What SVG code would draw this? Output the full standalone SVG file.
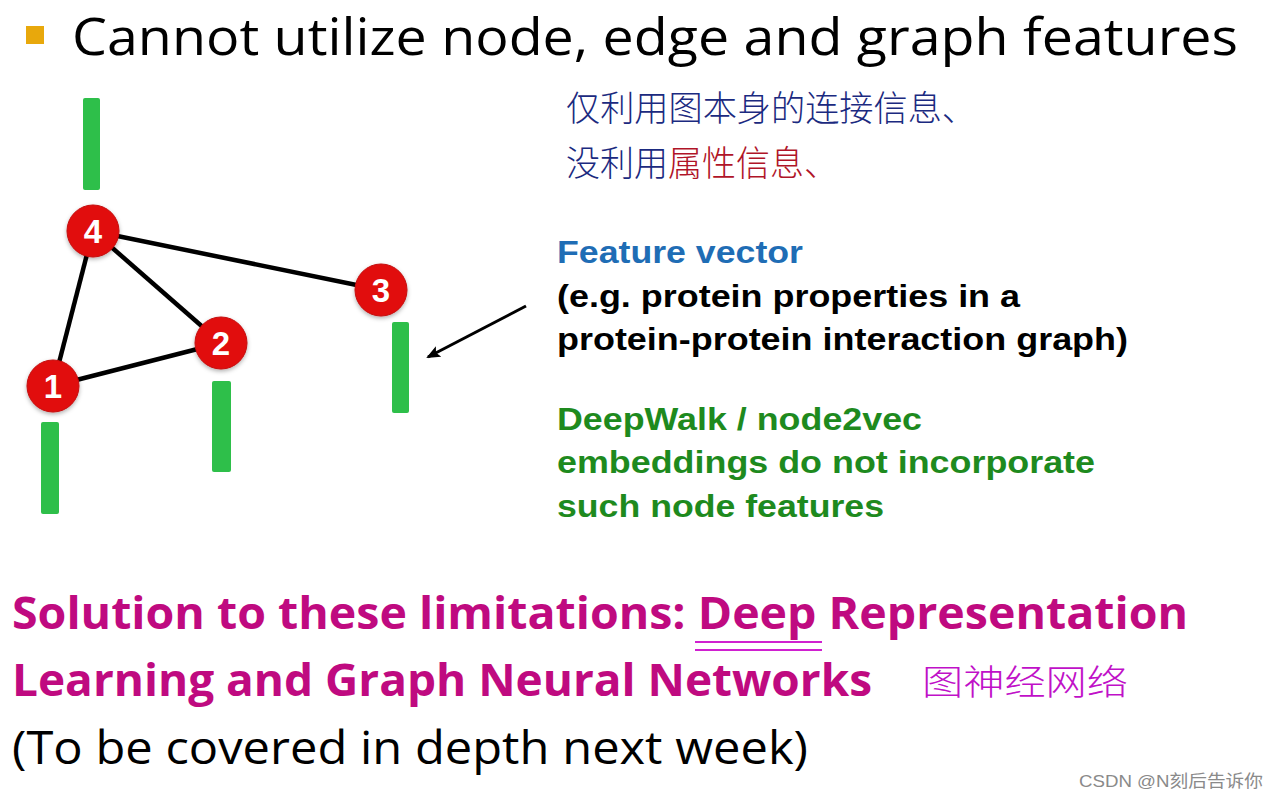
<svg xmlns="http://www.w3.org/2000/svg" width="1278" height="802" viewBox="0 0 1278 802">
<defs>
<style>
.title{font-family:"Open Sans","Noto Sans",sans-serif;font-size:52px;fill:#000}
.arial{font-family:"Liberation Sans",Arial,sans-serif;font-weight:bold;font-size:31px}
.sol{font-family:"Open Sans","Noto Sans",sans-serif;font-weight:bold;font-size:45px;fill:#BF0A80}
.reg{font-family:"Open Sans","Noto Sans",sans-serif;font-size:45px;fill:#000}
.hand{font-family:"Noto Sans CJK SC","Noto Sans CJK JP",sans-serif;font-weight:300;font-size:35px}
.bar{fill:#2EBF4A}
.node circle{fill:#E10F0F;stroke:#C40A0A;stroke-width:1}
.node text{font-family:"Liberation Sans",Arial,sans-serif;font-weight:bold;font-size:33px;fill:#fff;text-anchor:middle}
.edge{stroke:#000;stroke-width:4.5;fill:none}
</style>
<marker id="ah" markerWidth="14" markerHeight="12" refX="12" refY="6" orient="auto" markerUnits="userSpaceOnUse" viewBox="0 0 14 12">
<path d="M0,0 L14,6 L0,12 L3,6 z" fill="#000"/>
</marker>
<filter id="sh" x="-30%" y="-30%" width="160%" height="160%">
<feDropShadow dx="0" dy="2" stdDeviation="2" flood-color="#000" flood-opacity="0.3"/>
</filter>
</defs>
<rect width="1278" height="802" fill="#fff"/>

<rect x="26" y="26" width="18" height="18" fill="#E8A80C"/>
<text class="title" x="72" y="55" textLength="1166" lengthAdjust="spacingAndGlyphs">Cannot utilize node, edge and graph features</text>

<text class="hand" x="566" y="121" fill="#1B2A80" textLength="410" lengthAdjust="spacingAndGlyphs">仅利用图本身的连接信息、</text>
<text class="hand" x="566" y="176" textLength="272" lengthAdjust="spacingAndGlyphs"><tspan fill="#1B2A80">没利用</tspan><tspan fill="#B01428">属性信息、</tspan></text>

<g id="connectors">
<line class="edge" x1="93" y1="231" x2="53" y2="386"/>
<line class="edge" x1="93" y1="231" x2="221" y2="343"/>
<line class="edge" x1="93" y1="231" x2="381" y2="290"/>
<line class="edge" x1="53" y1="386" x2="221" y2="343"/>
<line x1="526" y1="306" x2="428" y2="357" stroke="#000" stroke-width="3" marker-end="url(#ah)"/>
</g>

<g id="bars">
<rect class="bar" x="83" y="98" width="17" height="92" rx="2"/>
<rect class="bar" x="41" y="422" width="18" height="92" rx="2"/>
<rect class="bar" x="212" y="381" width="19" height="91" rx="2"/>
<rect class="bar" x="392" y="322" width="17" height="91" rx="2"/>
</g>

<g id="node4" class="node"><circle cx="93" cy="231" r="26" filter="url(#sh)"/><text x="93" y="243">4</text></g>
<g id="node3" class="node"><circle cx="381" cy="290" r="26" filter="url(#sh)"/><text x="381" y="302">3</text></g>
<g id="node2" class="node"><circle cx="221" cy="343" r="26" filter="url(#sh)"/><text x="221" y="355">2</text></g>
<g id="node1" class="node"><circle cx="53" cy="386" r="26" filter="url(#sh)"/><text x="53" y="398">1</text></g>

<text class="arial" x="557" y="263" fill="#1F6DB5" textLength="246" lengthAdjust="spacingAndGlyphs">Feature vector</text>
<text class="arial" x="557" y="307" fill="#000" textLength="463" lengthAdjust="spacingAndGlyphs">(e.g. protein properties in a</text>
<text class="arial" x="557" y="350" fill="#000" textLength="571" lengthAdjust="spacingAndGlyphs">protein-protein interaction graph)</text>
<text class="arial" x="557" y="430" fill="#1E8A1E" textLength="365" lengthAdjust="spacingAndGlyphs">DeepWalk / node2vec</text>
<text class="arial" x="557" y="473" fill="#1E8A1E" textLength="538" lengthAdjust="spacingAndGlyphs">embeddings do not incorporate</text>
<text class="arial" x="557" y="517" fill="#1E8A1E" textLength="327" lengthAdjust="spacingAndGlyphs">such node features</text>

<text class="sol" x="12" y="629" textLength="1176" lengthAdjust="spacingAndGlyphs">Solution to these limitations: Deep Representation</text>
<line x1="695" y1="642" x2="822" y2="642" stroke="#D020D0" stroke-width="2"/>
<line x1="695" y1="650" x2="822" y2="650" stroke="#D020D0" stroke-width="2"/>
<text class="sol" x="12" y="696" textLength="860" lengthAdjust="spacingAndGlyphs">Learning and Graph Neural Networks</text>
<text class="reg" x="12" y="764" textLength="796" lengthAdjust="spacingAndGlyphs">(To be covered in depth next week)</text>

<text class="hand" x="922" y="695" fill="#C010C8" font-size="40" textLength="206" lengthAdjust="spacingAndGlyphs">图神经网络</text>
<text x="1079" y="787" font-family="Liberation Sans,Arial,Noto Sans CJK SC,sans-serif" font-size="17" fill="#8A8A8A" textLength="184" lengthAdjust="spacingAndGlyphs">CSDN @N刻后告诉你</text>
</svg>
